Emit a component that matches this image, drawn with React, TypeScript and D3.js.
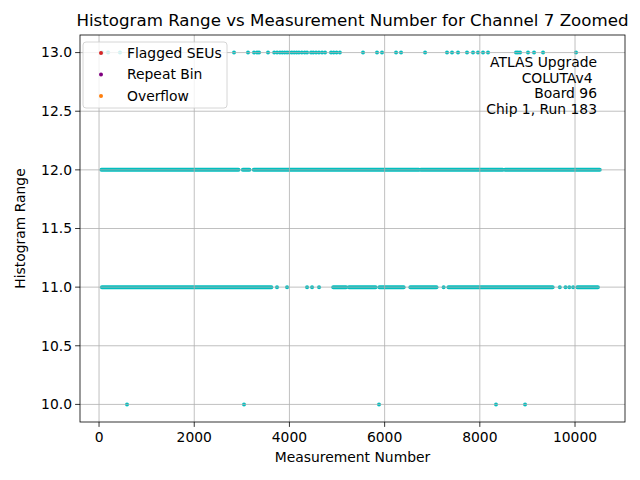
import * as d3 from "d3";

const range13 = [
  60, 190, 440, 2836, 3130, 3256, 3319, 3361, 3550, 3680, 3740, 3800, 3850,
  3900, 3950, 4000, 4050, 4100, 4150, 4200, 4260, 4320, 4370, 4454, 4500,
  4560, 4620, 4685, 4748, 4874, 4930, 4990, 5060, 5546, 5840, 5945, 6240,
  6345, 6850, 7311, 7416, 7542, 7731, 7857, 7962, 8067, 8172, 8760, 8800,
  8845, 9012, 9139, 9328, 10021,
];
const range11 = [3739, 3950, 4370, 4475, 4622, 7240, 9680, 9800, 9880, 9960];
const range10 = [588, 3046, 5882, 8340, 8950];

// dense stretches where every measurement sits on the same value: [first, last]
const range12Runs = [
  [50, 2930],
  [3020, 3160],
  [3250, 6720],
  [6760, 8480],
  [8530, 10520],
];
const range11Runs = [
  [60, 3620],
  [4920, 5190],
  [5250, 5810],
  [5890, 6400],
  [6540, 7090],
  [7340, 9530],
  [10050, 10480],
];

const xTicks = [0, 2000, 4000, 6000, 8000, 10000];
const yTicks = [10, 10.5, 11, 11.5, 12, 12.5, 13];
const legendItems = [
  { label: "Flagged SEUs", color: "#d62728" },
  { label: "Repeat Bin", color: "#800080" },
  { label: "Overflow", color: "#ff7f0e" },
];
const infoLines = ["ATLAS Upgrade", "COLUTAv4 ", " Board 96", "Chip 1, Run 183"];

const W = 640;
const H = 480;
const margin = { top: 35, right: 15, bottom: 58, left: 80 };
const font = "DejaVu Sans, sans-serif";
const fs = 13.89; // 10pt at 100 dpi
const dotColor = "#00bfbf";

export default function App() {
  const x = d3.scaleLinear().domain([-400, 11050]).range([margin.left, W - margin.right]);
  const y = d3.scaleLinear().domain([9.85, 13.15]).range([H - margin.bottom, margin.top]);
  const [x0, x1] = x.range();
  const [y0, y1] = y.range();

  const points = [
    ...range13.map((v) => ({ v, r: 13 })),
    ...range11.map((v) => ({ v, r: 11 })),
    ...range10.map((v) => ({ v, r: 10 })),
  ];
  const runs = [
    ...range12Runs.map((d) => ({ d, r: 12 })),
    ...range11Runs.map((d) => ({ d, r: 11 })),
  ];

  return (
    <div style={{ position: "absolute", left: 0, top: 0 }}>
      <svg width={W} height={H} style={{ display: "block", background: "#fff" }}>
        <defs>
          <clipPath id="plot">
            <rect x={x0} y={y1} width={x1 - x0} height={y0 - y1} />
          </clipPath>
        </defs>

        <g clipPath="url(#plot)">
          {runs.map(({ d, r }, i) => (
            <line
              key={"run" + i}
              x1={x(d[0])}
              x2={x(d[1])}
              y1={y(r)}
              y2={y(r)}
              stroke={dotColor}
              strokeWidth={4}
              strokeLinecap="round"
            />
          ))}
          {points.map((p, i) => (
            <circle key={"pt" + i} cx={x(p.v)} cy={y(p.r)} r={2} fill={dotColor} />
          ))}
        </g>

        {/* grid sits above the markers, as in the source */}
        <g stroke="#b0b0b0" strokeWidth={0.8}>
          {xTicks.map((t) => (
            <line key={"gx" + t} x1={x(t)} x2={x(t)} y1={y0} y2={y1} />
          ))}
          {yTicks.map((t) => (
            <line key={"gy" + t} x1={x0} x2={x1} y1={y(t)} y2={y(t)} />
          ))}
        </g>

        <rect x={x0} y={y1} width={x1 - x0} height={y0 - y1} fill="none" stroke="#000" strokeWidth={0.8} />

        <g fontFamily={font} fontSize={fs} fill="#000">
          {xTicks.map((t) => (
            <g key={"tx" + t}>
              <line x1={x(t)} x2={x(t)} y1={y0} y2={y0 + 4.9} stroke="#000" strokeWidth={0.8} />
              <text x={x(t)} y={y0 + 20} textAnchor="middle">
                {t}
              </text>
            </g>
          ))}
          {yTicks.map((t) => (
            <g key={"ty" + t}>
              <line x1={x0 - 4.9} x2={x0} y1={y(t)} y2={y(t)} stroke="#000" strokeWidth={0.8} />
              <text x={x0 - 8} y={y(t)} dy="0.35em" textAnchor="end">
                {t.toFixed(1)}
              </text>
            </g>
          ))}
          <text x={(x0 + x1) / 2} y={462} textAnchor="middle">
            Measurement Number
          </text>
          <text transform={`translate(25,${(y0 + y1) / 2}) rotate(-90)`} textAnchor="middle">
            Histogram Range
          </text>
          <text x={(x0 + x1) / 2} y={26} textAnchor="middle" fontSize={16.67}>
            Histogram Range vs Measurement Number for Channel 7 Zoomed
          </text>

          <g>
            {infoLines.map((s, i) => (
              <text key={"info" + i} x={597} y={67 + i * 15.6} textAnchor="end" style={{ whiteSpace: "pre" }}>
                {s}
              </text>
            ))}
          </g>
        </g>

        <g fontFamily={font} fontSize={fs}>
          <rect x={83} y={42} width={144} height={66} rx={3} fill="#fff" fillOpacity={0.8} stroke="#cccccc" strokeWidth={0.8} />
          {legendItems.map((item, i) => (
            <g key={item.label}>
              <circle cx={101} cy={53 + i * 21.5} r={2} fill={item.color} />
              <text x={127} y={53 + i * 21.5} dy="0.35em" fill="#000">
                {item.label}
              </text>
            </g>
          ))}
        </g>
      </svg>
    </div>
  );
}
